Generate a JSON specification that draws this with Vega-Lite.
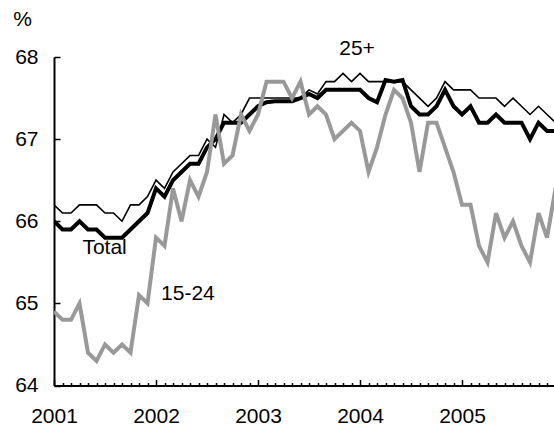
{
  "$schema": "https://vega.github.io/schema/vega-lite/v6.json",
  "width": 500,
  "height": 328.5,
  "autosize": "none",
  "padding": {"left": 54, "top": 57, "right": 0, "bottom": 42},
  "background": "white",
  "config": {"view": {"stroke": null}, "font": "Liberation Sans"},
  "datasets": {
    "series": [
      {"m":0,"s":"Total","v":66.0},{"m":1,"s":"Total","v":65.9},{"m":2,"s":"Total","v":65.9},{"m":3,"s":"Total","v":66.0},{"m":4,"s":"Total","v":65.9},{"m":5,"s":"Total","v":65.9},{"m":6,"s":"Total","v":65.8},{"m":7,"s":"Total","v":65.8},{"m":8,"s":"Total","v":65.8},{"m":9,"s":"Total","v":65.9},
      {"m":10,"s":"Total","v":66.0},{"m":11,"s":"Total","v":66.1},{"m":12,"s":"Total","v":66.4},{"m":13,"s":"Total","v":66.3},{"m":14,"s":"Total","v":66.5},{"m":15,"s":"Total","v":66.6},{"m":16,"s":"Total","v":66.7},{"m":17,"s":"Total","v":66.7},{"m":18,"s":"Total","v":66.9},{"m":19,"s":"Total","v":67.0},
      {"m":20,"s":"Total","v":67.2},{"m":21,"s":"Total","v":67.2},{"m":22,"s":"Total","v":67.2},{"m":23,"s":"Total","v":67.3},{"m":24,"s":"Total","v":67.4},{"m":25,"s":"Total","v":67.45},{"m":26,"s":"Total","v":67.46},{"m":27,"s":"Total","v":67.46},{"m":28,"s":"Total","v":67.46},{"m":29,"s":"Total","v":67.5},
      {"m":30,"s":"Total","v":67.55},{"m":31,"s":"Total","v":67.5},{"m":32,"s":"Total","v":67.6},{"m":33,"s":"Total","v":67.6},{"m":34,"s":"Total","v":67.6},{"m":35,"s":"Total","v":67.6},{"m":36,"s":"Total","v":67.6},{"m":37,"s":"Total","v":67.5},{"m":38,"s":"Total","v":67.45},{"m":39,"s":"Total","v":67.72},
      {"m":40,"s":"Total","v":67.7},{"m":41,"s":"Total","v":67.72},{"m":42,"s":"Total","v":67.4},{"m":43,"s":"Total","v":67.3},{"m":44,"s":"Total","v":67.3},{"m":45,"s":"Total","v":67.4},{"m":46,"s":"Total","v":67.6},{"m":47,"s":"Total","v":67.4},{"m":48,"s":"Total","v":67.3},{"m":49,"s":"Total","v":67.4},
      {"m":50,"s":"Total","v":67.2},{"m":51,"s":"Total","v":67.2},{"m":52,"s":"Total","v":67.3},{"m":53,"s":"Total","v":67.2},{"m":54,"s":"Total","v":67.2},{"m":55,"s":"Total","v":67.2},{"m":56,"s":"Total","v":67.0},{"m":57,"s":"Total","v":67.2},{"m":58,"s":"Total","v":67.1},{"m":59,"s":"Total","v":67.1},

      {"m":0,"s":"25+","v":66.2},{"m":1,"s":"25+","v":66.1},{"m":2,"s":"25+","v":66.1},{"m":3,"s":"25+","v":66.2},{"m":4,"s":"25+","v":66.2},{"m":5,"s":"25+","v":66.2},{"m":6,"s":"25+","v":66.1},{"m":7,"s":"25+","v":66.1},{"m":8,"s":"25+","v":66.0},{"m":9,"s":"25+","v":66.2},
      {"m":10,"s":"25+","v":66.2},{"m":11,"s":"25+","v":66.3},{"m":12,"s":"25+","v":66.5},{"m":13,"s":"25+","v":66.4},{"m":14,"s":"25+","v":66.6},{"m":15,"s":"25+","v":66.7},{"m":16,"s":"25+","v":66.8},{"m":17,"s":"25+","v":66.8},{"m":18,"s":"25+","v":67.0},{"m":19,"s":"25+","v":66.9},
      {"m":20,"s":"25+","v":67.3},{"m":21,"s":"25+","v":67.2},{"m":22,"s":"25+","v":67.3},{"m":23,"s":"25+","v":67.5},{"m":24,"s":"25+","v":67.5},{"m":25,"s":"25+","v":67.5},{"m":26,"s":"25+","v":67.5},{"m":27,"s":"25+","v":67.5},{"m":28,"s":"25+","v":67.5},{"m":29,"s":"25+","v":67.5},
      {"m":30,"s":"25+","v":67.6},{"m":31,"s":"25+","v":67.55},{"m":32,"s":"25+","v":67.7},{"m":33,"s":"25+","v":67.7},{"m":34,"s":"25+","v":67.8},{"m":35,"s":"25+","v":67.7},{"m":36,"s":"25+","v":67.8},{"m":37,"s":"25+","v":67.7},{"m":38,"s":"25+","v":67.7},{"m":39,"s":"25+","v":67.7},
      {"m":40,"s":"25+","v":67.7},{"m":41,"s":"25+","v":67.7},{"m":42,"s":"25+","v":67.6},{"m":43,"s":"25+","v":67.5},{"m":44,"s":"25+","v":67.4},{"m":45,"s":"25+","v":67.5},{"m":46,"s":"25+","v":67.7},{"m":47,"s":"25+","v":67.6},{"m":48,"s":"25+","v":67.6},{"m":49,"s":"25+","v":67.6},
      {"m":50,"s":"25+","v":67.5},{"m":51,"s":"25+","v":67.5},{"m":52,"s":"25+","v":67.5},{"m":53,"s":"25+","v":67.4},{"m":54,"s":"25+","v":67.5},{"m":55,"s":"25+","v":67.4},{"m":56,"s":"25+","v":67.3},{"m":57,"s":"25+","v":67.4},{"m":58,"s":"25+","v":67.3},{"m":59,"s":"25+","v":67.2},

      {"m":0,"s":"15-24","v":64.9},{"m":1,"s":"15-24","v":64.8},{"m":2,"s":"15-24","v":64.8},{"m":3,"s":"15-24","v":65.0},{"m":4,"s":"15-24","v":64.4},{"m":5,"s":"15-24","v":64.3},{"m":6,"s":"15-24","v":64.5},{"m":7,"s":"15-24","v":64.4},{"m":8,"s":"15-24","v":64.5},{"m":9,"s":"15-24","v":64.4},
      {"m":10,"s":"15-24","v":65.1},{"m":11,"s":"15-24","v":65.0},{"m":12,"s":"15-24","v":65.8},{"m":13,"s":"15-24","v":65.7},{"m":14,"s":"15-24","v":66.4},{"m":15,"s":"15-24","v":66.0},{"m":16,"s":"15-24","v":66.5},{"m":17,"s":"15-24","v":66.3},{"m":18,"s":"15-24","v":66.6},{"m":19,"s":"15-24","v":67.3},
      {"m":20,"s":"15-24","v":66.7},{"m":21,"s":"15-24","v":66.8},{"m":22,"s":"15-24","v":67.3},{"m":23,"s":"15-24","v":67.1},{"m":24,"s":"15-24","v":67.3},{"m":25,"s":"15-24","v":67.7},{"m":26,"s":"15-24","v":67.7},{"m":27,"s":"15-24","v":67.7},{"m":28,"s":"15-24","v":67.5},{"m":29,"s":"15-24","v":67.7},
      {"m":30,"s":"15-24","v":67.3},{"m":31,"s":"15-24","v":67.4},{"m":32,"s":"15-24","v":67.3},{"m":33,"s":"15-24","v":67.0},{"m":34,"s":"15-24","v":67.1},{"m":35,"s":"15-24","v":67.2},{"m":36,"s":"15-24","v":67.1},{"m":37,"s":"15-24","v":66.6},{"m":38,"s":"15-24","v":66.9},{"m":39,"s":"15-24","v":67.3},
      {"m":40,"s":"15-24","v":67.6},{"m":41,"s":"15-24","v":67.5},{"m":42,"s":"15-24","v":67.2},{"m":43,"s":"15-24","v":66.6},{"m":44,"s":"15-24","v":67.2},{"m":45,"s":"15-24","v":67.2},{"m":46,"s":"15-24","v":66.9},{"m":47,"s":"15-24","v":66.6},{"m":48,"s":"15-24","v":66.2},{"m":49,"s":"15-24","v":66.2},
      {"m":50,"s":"15-24","v":65.7},{"m":51,"s":"15-24","v":65.5},{"m":52,"s":"15-24","v":66.1},{"m":53,"s":"15-24","v":65.8},{"m":54,"s":"15-24","v":66.0},{"m":55,"s":"15-24","v":65.7},{"m":56,"s":"15-24","v":65.5},{"m":57,"s":"15-24","v":66.1},{"m":58,"s":"15-24","v":65.8},{"m":59,"s":"15-24","v":66.4}
    ],
    "labels": [
      {"m":35.65,"v":68.1,"label":"25+"},
      {"m":5.95,"v":65.67,"label":"Total"},
      {"m":15.75,"v":65.12,"label":"15-24"}
    ]
  },
  "encoding": {
    "x": {
      "field": "m", "type": "quantitative",
      "scale": {"domain": [0, 58.82], "nice": false, "zero": false},
      "axis": {
        "title": null, "grid": false,
        "values": [0,1,2,3,4,5,6,7,8,9,10,11,12,13,14,15,16,17,18,19,20,21,22,23,24,25,26,27,28,29,30,31,32,33,34,35,36,37,38,39,40,41,42,43,44,45,46,47,48,49,50,51,52,53,54,55,56,57,58],
        "tickSize": {"condition": {"test": "datum.value % 12 === 0", "value": -6}, "value": -3},
        "tickColor": "black", "tickWidth": 1.5,
        "domainColor": "black", "domainWidth": 2,
        "labelExpr": "datum.value % 12 === 0 ? '' + (2001 + datum.value / 12) : ''",
        "labelFontSize": 21, "labelColor": "black", "labelFont": "Liberation Sans",
        "labelBaseline": "line-top", "labelLineHeight": 31,
        "labelPadding": 21, "labelOverlap": false, "labelFlush": false, "labelBound": false
      }
    },
    "y": {
      "field": "v", "type": "quantitative",
      "scale": {"domain": [64, 68], "nice": false, "zero": false},
      "axis": {
        "title": "%", "titleAngle": 0, "titleX": -32, "titleY": -38,
        "titleAlign": "center", "titleBaseline": "middle",
        "titleFontSize": 21, "titleFontWeight": "normal", "titleColor": "black", "titleFont": "Liberation Sans",
        "grid": false, "values": [64, 65, 66, 67, 68],
        "tickSize": -6, "tickColor": "black", "tickWidth": 1.5,
        "domainColor": "black", "domainWidth": 2,
        "labelFontSize": 21, "labelColor": "black", "labelFont": "Liberation Sans",
        "labelPadding": 22, "labelOverlap": false, "labelFlush": false, "labelBound": false
      }
    }
  },
  "layer": [
    {
      "data": {"name": "series"},
      "transform": [{"filter": "datum.s === '25+'"}],
      "mark": {"type": "line", "color": "black", "strokeWidth": 1.6, "clip": true}
    },
    {
      "data": {"name": "series"},
      "transform": [{"filter": "datum.s === 'Total'"}],
      "mark": {"type": "line", "color": "black", "strokeWidth": 4, "clip": true}
    },
    {
      "data": {"name": "series"},
      "transform": [{"filter": "datum.s === '15-24'"}],
      "mark": {"type": "line", "color": "#999999", "strokeWidth": 4, "clip": true}
    },
    {
      "data": {"name": "labels"},
      "mark": {"type": "text", "fontSize": 21, "font": "Liberation Sans", "color": "black", "align": "center", "baseline": "middle"},
      "encoding": {"text": {"field": "label"}}
    }
  ]
}
